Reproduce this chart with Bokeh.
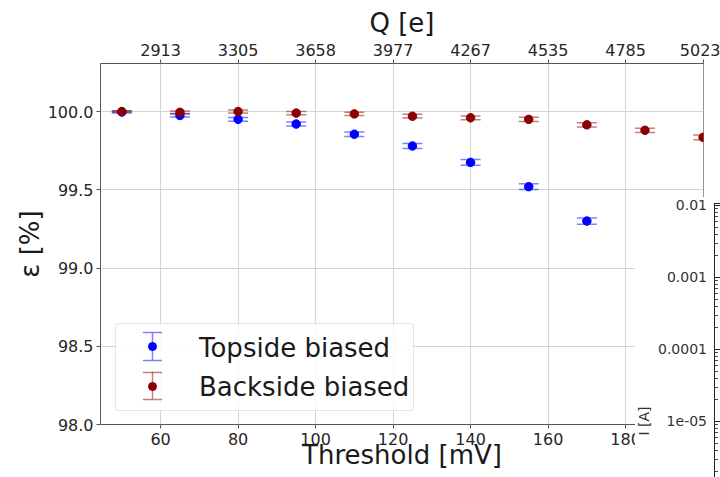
import math
from bokeh.plotting import figure
from bokeh.models import (ColumnDataSource, LinearAxis, FixedTicker, PrintfTickFormatter,
                          Legend, LegendItem, Div)
from bokeh.layouts import column
from bokeh.embed import file_html
from bokeh.resources import INLINE

# ---------------- data ----------------
thr_top = [50, 65, 80, 95, 110, 125, 140, 155, 170]
eff_top = [99.997, 99.975, 99.950, 99.920, 99.855, 99.780, 99.675, 99.520, 99.300]
err_top = [0.006, 0.010, 0.012, 0.013, 0.014, 0.016, 0.018, 0.019, 0.020]

thr_back = [50, 65, 80, 95, 110, 125, 140, 155, 170, 185, 200]
eff_back = [100.000, 99.995, 100.000, 99.990, 99.985, 99.970, 99.960, 99.950, 99.915, 99.880, 99.835]
err_back = [0.005, 0.008, 0.010, 0.010, 0.010, 0.012, 0.012, 0.013, 0.014, 0.014, 0.015]

mv_ticks = [60, 80, 100, 120, 140, 160, 180, 200]
q_labels = ["2913", "3305", "3658", "3977", "4267", "4535", "4785", "5023"]
eff_ticks = [98.0, 98.5, 99.0, 99.5, 100.0]
inset_values = [1e-2, 1e-3, 1e-4, 1e-5]
inset_labels = ["0.01", "0.001", "0.0001", "1e-05"]
inset_title = "I [A]"

series = [
    ("Topside biased", thr_top, eff_top, err_top, "#0000ff"),
    ("Backside biased", thr_back, eff_back, err_back, "#8b0000"),
]

FONT = "DejaVu Sans"
TXT = "#1a1a1a"
SPINE = "#555555"
GRID = "#d4d4d4"
BIG = "26px"
W, H = 720, 477
FL, FR, FT, FB = 100, 703, 63, 424      # frame edges in page pixels

p = figure(width=W, height=H, x_range=(44.5, 200.1), y_range=(98.0, 100.307),
           output_backend="svg", toolbar_location=None,
           min_border_left=FL, min_border_right=W - FR, min_border_top=FT,
           min_border_bottom=H - FB,
           x_axis_label="Threshold [mV]", y_axis_label="ε [%]")
p.outline_line_color = SPINE
p.outline_line_width = 1

# top axis with the charge equivalents of the thresholds
top = LinearAxis(ticker=FixedTicker(ticks=mv_ticks),
                 major_label_overrides={t: q for t, q in zip(mv_ticks, q_labels)},
                 axis_label="Q [e]")
p.add_layout(top, "above")

p.xaxis.ticker = FixedTicker(ticks=mv_ticks)
p.yaxis.ticker = FixedTicker(ticks=eff_ticks)
p.yaxis.formatter = PrintfTickFormatter(format="%.1f")

for ax in p.xaxis + p.yaxis:
    ax.axis_line_color = None
    ax.major_tick_line_color = SPINE
    ax.major_tick_out = 4
    ax.major_tick_in = 0
    ax.minor_tick_line_color = None
    ax.major_label_text_font = FONT
    ax.major_label_text_font_size = "16px"
    ax.major_label_text_color = "#262626"
    ax.axis_label_text_font = FONT
    ax.axis_label_text_font_size = BIG
    ax.axis_label_text_font_style = "normal"
    ax.axis_label_text_color = TXT

p.below[0].major_label_standoff = 4
p.below[0].axis_label_standoff = -8
top.major_label_standoff = 4
top.axis_label_standoff = 3
p.yaxis.major_label_standoff = 3
p.yaxis.axis_label_standoff = 0

p.xgrid.ticker = FixedTicker(ticks=mv_ticks)
p.ygrid.ticker = FixedTicker(ticks=eff_ticks)
p.grid.grid_line_color = GRID
p.grid.grid_line_width = 1

rend = []
for name, xs, ys, es, col in series:
    src = ColumnDataSource(dict(x=xs, y=ys,
                                lo=[y - e for y, e in zip(ys, es)],
                                hi=[y + e for y, e in zip(ys, es)],
                                h=[2 * e for e in es]))
    err_style = dict(line_color=col, line_alpha=0.5, line_width=1.5)
    r = dict(name=name)
    r["bar"] = p.ellipse(x="x", y="y", width=0.01, height="h", width_units="screen",
                         source=src, fill_alpha=0, **err_style)
    r["hi"] = p.scatter(x="x", y="hi", source=src, marker="dash", size=20, **err_style)
    r["lo"] = p.scatter(x="x", y="lo", source=src, marker="dash", size=20, **err_style)
    r["dot"] = p.scatter(x="x", y="y", source=src, size=8.5, color=col)
    r["ghost"] = p.scatter(x="x", y="y", source=src, size=0, fill_alpha=0, line_alpha=0)
    rend.append(r)

# ---------------- legend ----------------
LX, LY, PAD, ROW, GW = 15, 13, 4, 39, 66
legA = Legend(items=[LegendItem(label=r["name"], renderers=[r["ghost"]]) for r in rend],
              location=(LX, LY), orientation="vertical", spacing=0, padding=PAD, margin=0,
              label_height=ROW, glyph_height=ROW, glyph_width=GW, label_standoff=13,
              border_line_color="#cccccc", border_line_width=1, border_radius=4,
              background_fill_color="white", background_fill_alpha=0.85,
              label_text_font=FONT, label_text_font_size=BIG, label_text_color=TXT)
p.add_layout(legA)

# errorbar symbols of the legend: one tiny legend per piece, centred on (cx, cy)
KEY_X = 152                     # x of the legend symbols
KEY_Y = [346, 385.5]            # centres of the two legend symbols
HALF = 13.5                     # half height of the legend error bar


def key_piece(renderer, cx, cy, box):
    leg = Legend(items=[LegendItem(label=" ", renderers=[renderer])],
                 location=(round(cx - FL - box / 2), round(FB - cy - box / 2)),
                 padding=0, margin=0, spacing=0, label_height=0, label_standoff=0,
                 glyph_width=box, glyph_height=box, label_text_font_size="1px",
                 border_line_color=None, background_fill_alpha=0)
    p.add_layout(leg)


for r, cy in zip(rend, KEY_Y):
    key_piece(r["bar"], KEY_X, cy, 34)          # 0.8 * 34 -> 27 px bar
    key_piece(r["hi"], KEY_X, cy - HALF, 48)    # 0.4 * 48 -> 19 px cap
    key_piece(r["lo"], KEY_X, cy + HALF, 48)
    key_piece(r["dot"], KEY_X, cy + 0.5, 20)    # 0.4 * 20 -> 8 px dot

# ---------------- corner of a neighbouring figure (lower right) ----------------
ox, oy = 635, 197                 # corner of the overlapping panel
axis_x = 80                       # its left spine, inside the panel
y_top_dec, px_dec = 205, 72       # pixel row of 0.01 and pixels per decade


def inset_y(v):
    return y_top_dec + (math.log10(inset_values[0]) - math.log10(v)) * px_dec


parts = []
for txt, v in zip(inset_labels, inset_values):
    yy = inset_y(v) - oy
    parts.append(f'<span style="position:absolute; right:13px; top:{yy - 8:.0f}px; '
                 f'line-height:16px; white-space:nowrap;">{txt}</span>')
    parts.append(f'<span style="position:absolute; left:{axis_x}px; top:{yy:.0f}px; width:5px; '
                 f'height:0; border-top:1px solid #222;"></span>')
for dec in range(-6, -2):
    for k in range(2, 10):
        yy = inset_y(k * 10.0 ** dec) - oy
        if 6 < yy < H - oy:
            parts.append(f'<span style="position:absolute; left:{axis_x}px; top:{yy:.0f}px; '
                         f'width:3px; height:0; border-top:1px solid #444;"></span>')
parts.append(f'<span style="position:absolute; left:{644 - ox - 20}px; top:{421 - oy - 8}px; '
             f'width:40px; line-height:16px; text-align:center; white-space:nowrap; '
             f'transform:rotate(-90deg);">{inset_title}</span>')
parts.append(f'<span style="position:absolute; left:{axis_x - 1}px; top:6px; width:10px; '
             f'height:300px; border-left:1.5px solid #222; border-top:1.5px solid #222;"></span>')
inset = Div(text="".join(parts), width=W - ox, height=H - oy,
            styles={"position": "absolute", "left": f"{ox}px", "top": f"{oy}px",
                    "background-color": "white", "overflow": "hidden",
                    "font-family": FONT, "font-size": "14px", "color": "#333333",
                    "margin": "0", "padding": "0"})

layout = column(p, inset)
open("out.html", "w").write(file_html(layout, INLINE))
